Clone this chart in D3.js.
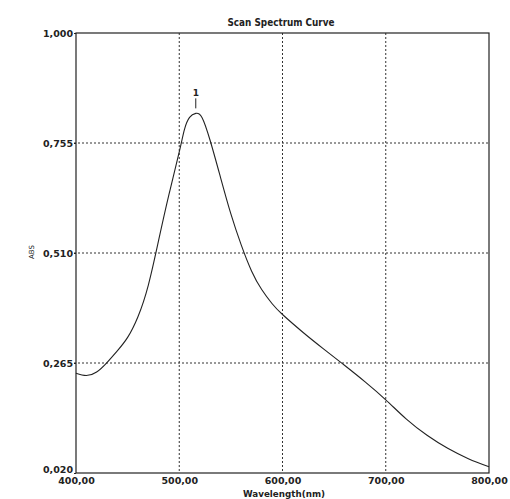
<!DOCTYPE html>
<html><head><meta charset="utf-8">
<script src="https://cdn.jsdelivr.net/npm/d3@7"></script>
<style>body{margin:0;background:#fff}svg{display:block}</style>
</head><body>
<svg id="c" width="510" height="499"></svg>
<script>
const wavelength = [400,410,420,430,440,450,460,470,480,490,500,505,510,516,522,530,540,550,560,570,580,590,600,620,640,660,680,700,720,740,760,780,800];
const absorbance = [0.242,0.237,0.245,0.266,0.292,0.322,0.368,0.438,0.538,0.640,0.735,0.785,0.812,0.821,0.812,0.760,0.678,0.597,0.528,0.470,0.428,0.397,0.373,0.333,0.296,0.260,0.223,0.183,0.140,0.104,0.075,0.052,0.034];
const xTicks = [400,500,600,700,800];
const xTickLabels = ["400,00","500,00","600,00","700,00","800,00"];
const yTicks = [0.020,0.265,0.510,0.755,1.000];
const yTickLabels = ["0,020","0,265","0,510","0,755","1,000"];
const peakWavelength = [516];
const peakAbs = [0.821];
const peakLabels = ["1"];

const svg = d3.select("#c");
const L=76,R=489,T=33,B=473;
const x = d3.scaleLinear().domain([400,800]).range([L,R]);
const y = d3.scaleLinear().domain([0.020,1.000]).range([B,T]);
const font = "'DejaVu Sans', Verdana, sans-serif";
const ink = "#222";

// grid
svg.append("g").selectAll("line").data(xTicks.slice(1,-1)).join("line")
  .attr("x1",d=>x(d)).attr("x2",d=>x(d)).attr("y1",T).attr("y2",B)
  .attr("stroke","#333").attr("stroke-width",1).attr("stroke-dasharray","2,2");
svg.append("g").selectAll("line").data(yTicks.slice(1,-1)).join("line")
  .attr("x1",L-2).attr("x2",R).attr("y1",d=>y(d)).attr("y2",d=>y(d))
  .attr("stroke","#333").attr("stroke-width",1).attr("stroke-dasharray","2,2");

// frame
svg.append("rect").attr("x",L).attr("y",T).attr("width",R-L).attr("height",B-T)
  .attr("fill","none").attr("stroke",ink).attr("stroke-width",1.2);

// y axis labels
const yAxis = d3.axisLeft(y).tickValues(yTicks).tickSize(2).tickPadding(1)
  .tickFormat((d,i)=>yTickLabels[i]);
const gy = svg.append("g").attr("transform",`translate(${L},0)`).call(yAxis);
gy.select(".domain").remove();
gy.selectAll("text").attr("font-family",font).attr("font-size",9.5).attr("font-weight","bold").attr("fill",ink)
  .attr("dy",(d,i)=> i===0 ? "-0.1em" : "0.32em");
gy.selectAll("line").attr("stroke",ink);

// x axis labels
const xAxis = d3.axisBottom(x).tickValues(xTicks).tickSize(0).tickPadding(4)
  .tickFormat((d,i)=>xTickLabels[i]);
const gx = svg.append("g").attr("transform",`translate(0,${B})`).call(xAxis);
gx.select(".domain").remove();
gx.selectAll("text").attr("font-family",font).attr("font-size",9.5).attr("font-weight","bold").attr("fill",ink);

// titles
svg.append("text").attr("x",281).attr("y",26).attr("text-anchor","middle")
  .attr("font-family",font).attr("font-size",10.5).attr("font-weight","bold").attr("fill",ink)
  .attr("textLength",107).attr("lengthAdjust","spacingAndGlyphs")
  .text("Scan Spectrum Curve");
svg.append("text").attr("x",284).attr("y",497).attr("text-anchor","middle")
  .attr("font-family",font).attr("font-size",9.5).attr("font-weight","bold").attr("fill",ink)
  .attr("textLength",82).attr("lengthAdjust","spacingAndGlyphs")
  .text("Wavelength(nm)");
svg.append("text").attr("transform","translate(34,252) rotate(-90)").attr("text-anchor","middle")
  .attr("font-family",font).attr("font-size",7).attr("fill",ink).text("ABS");

// curve
const data = wavelength.map((w,i)=>[w,absorbance[i]]);
svg.append("path").datum(data)
  .attr("d",d3.line().x(d=>x(d[0])).y(d=>y(d[1])).curve(d3.curveNatural))
  .attr("fill","none").attr("stroke",ink).attr("stroke-width",1.1);

// peak marker
const pk = svg.append("g");
pk.selectAll("line").data(peakWavelength).join("line")
  .attr("x1",d=>x(d)).attr("x2",d=>x(d))
  .attr("y1",(d,i)=>y(peakAbs[i])-5).attr("y2",(d,i)=>y(peakAbs[i])-15)
  .attr("stroke",ink).attr("stroke-width",1);
pk.selectAll("text").data(peakWavelength).join("text")
  .attr("x",d=>x(d)).attr("y",(d,i)=>y(peakAbs[i])-17).attr("text-anchor","middle")
  .attr("font-family",font).attr("font-size",9).attr("font-weight","bold").attr("fill",ink)
  .text((d,i)=>peakLabels[i]);
</script>
</body></html>
